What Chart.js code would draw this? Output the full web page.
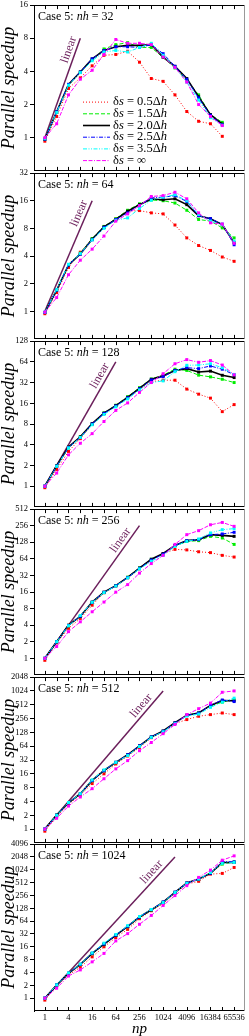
<!DOCTYPE html>
<html>
<head>
<meta charset="utf-8">
<script src="https://cdn.jsdelivr.net/npm/chart.js@4.4.1/dist/chart.umd.min.js"></script>
<style>
  html, body { margin: 0; padding: 0; background: #fff; }
  body { width: 249px; height: 1036px; position: relative; overflow: hidden; }
  canvas { position: absolute; left: 0; }
</style>
</head>
<body>
<script>
const npValues = [1, 2, 4, 8, 16, 32, 64, 128, 256, 512, 1024, 2048, 4096, 8192, 16384, 32768, 65536];
const xLabelled = [1, 4, 16, 64, 256, 1024, 4096, 16384, 65536];
const nhValues = [32, 64, 128, 256, 512, 1024];
const yTops = [16, 32, 128, 512, 2048, 4096];
const linearEnds = [8, 16, 64, 256, 1024, 2048];
const deltaLabels = ['0.5', '1.5', '2.0', '2.5', '3.5', '∞'];

// parallel speedup per np (nh = 32 stops at np = 32768)
const nh32_ds05 = [0.93, 1.56, 2.8, 3.5, 4.5, 5.6, 5.7, 6.1, 4.85, 3.45, 3.25, 2.45, 1.73, 1.41, 1.34, 1.03];
const nh32_ds15 = [0.97, 1.7, 3.0, 3.95, 5.1, 6.4, 7.0, 7.3, 6.6, 6.6, 5.35, 4.3, 3.35, 2.45, 1.62, 1.38];
const nh32_ds20 = [0.97, 1.72, 3.05, 3.95, 5.2, 6.2, 6.7, 6.9, 6.9, 7.0, 5.4, 4.45, 3.45, 2.35, 1.62, 1.33];
const nh32_ds25 = [0.97, 1.72, 3.05, 3.95, 5.2, 6.2, 6.7, 6.7, 6.6, 7.0, 5.8, 4.45, 3.4, 2.3, 1.6, 1.31];
const nh32_ds35 = [0.98, 1.7, 3.0, 3.9, 5.0, 6.0, 6.2, 6.0, 6.6, 7.2, 5.6, 4.35, 3.2, 2.2, 1.52, 1.3];
const nh32_dsInf = [1.0, 1.34, 2.45, 3.4, 4.1, 5.7, 7.8, 7.2, 7.2, 7.0, 5.4, 4.35, 3.2, 2.0, 1.56, 1.29];

const nh64_ds05 = [0.94, 1.6, 3.0, 4.4, 6.1, 8.2, 10.2, 12.3, 12.5, 11.8, 11.5, 8.7, 6.3, 5.2, 4.6, 3.9, 3.5];
const nh64_ds15 = [0.97, 1.7, 3.2, 4.3, 6.2, 8.4, 10.2, 12.6, 14.8, 16.3, 16.0, 15.1, 12.6, 10.0, 9.6, 8.1, 6.3];
const nh64_ds20 = [0.97, 1.7, 3.2, 4.2, 6.1, 8.3, 10.0, 12.3, 14.5, 16.7, 16.4, 16.8, 14.5, 11.0, 10.2, 8.8, 5.6];
const nh64_ds25 = [0.97, 1.7, 3.2, 4.2, 6.0, 8.2, 10.0, 11.8, 14.2, 17.2, 17.5, 18.2, 15.7, 11.0, 10.2, 8.9, 5.3];
const nh64_ds35 = [0.98, 1.72, 3.25, 4.25, 6.0, 8.0, 9.8, 10.4, 13.2, 16.2, 17.5, 18.6, 16.0, 11.3, 9.6, 8.8, 5.8];
const nh64_dsInf = [0.98, 1.41, 2.5, 3.6, 4.75, 6.6, 9.6, 11.5, 14.1, 17.8, 18.2, 19.8, 16.8, 11.8, 9.2, 8.9, 5.5];

const nh128_ds05 = [0.95, 1.75, 3.2, 4.9, 7.9, 11.3, 14.8, 19.2, 25.5, 33, 34.6, 34.6, 25.7, 21.7, 19, 12.1, 15.3];
const nh128_ds15 = [1.0, 1.95, 3.6, 5.2, 8.0, 11.6, 15.0, 20.0, 27, 36, 41, 50, 48, 41, 38.7, 35.7, 32];
const nh128_ds20 = [1.0, 1.98, 3.7, 5.2, 8.1, 11.5, 14.8, 19.5, 26.3, 35.7, 40, 48, 51, 45.5, 46.9, 40.8, 37.8];
const nh128_ds25 = [1.0, 1.95, 3.65, 5.1, 8.0, 11.4, 14.6, 19.2, 26, 35, 39, 48, 52.6, 51, 55.7, 50, 41.5];
const nh128_ds35 = [1.0, 1.95, 3.6, 5.1, 7.8, 11.0, 14.2, 18.5, 25, 32, 33.8, 46, 57, 57.5, 60, 52.6, 42];
const nh128_dsInf = [1.0, 1.55, 2.85, 4.2, 5.8, 8.7, 12.6, 16.2, 23, 32, 43, 60, 69, 63, 66.8, 57.5, 41.5];

const nh256_ds05 = [0.92, 1.9, 3.5, 5.3, 9.2, 15.5, 20.5, 29, 42, 60, 80, 95, 93, 86, 83, 74, 69];
const nh256_ds15 = [1.0, 2.0, 3.9, 5.7, 10.3, 15.7, 21, 29.8, 44, 63, 78, 110, 132, 137, 164, 153, 117];
const nh256_ds20 = [1.0, 2.0, 4.0, 5.8, 10.5, 15.9, 20.9, 29.4, 43.4, 62.8, 80, 112, 137, 143, 176, 171, 164];
const nh256_ds25 = [1.0, 2.0, 3.95, 5.8, 10.4, 15.8, 20.7, 29.2, 43, 61, 78, 112, 137, 143, 176, 181, 194];
const nh256_ds35 = [1.0, 2.0, 3.9, 6.0, 10.4, 15.6, 20.5, 28.8, 42, 58, 74, 108, 133, 147, 189, 217, 226];
const nh256_dsInf = [1.0, 1.64, 3.05, 4.6, 7.0, 10.5, 15.9, 21.8, 35.2, 52.5, 74, 117, 176, 208, 266, 293, 249];

const nh512_ds05 = [0.9, 1.9, 3.5, 5.5, 9.8, 16, 26.2, 39, 60, 98, 130, 200, 243, 287, 312, 338, 312];
const nh512_ds15 = [1.0, 2.0, 3.7, 5.8, 11.3, 18.5, 28, 41, 64, 100, 135, 205, 300, 340, 490, 583, 656];
const nh512_ds20 = [1.0, 2.03, 3.74, 5.9, 11.5, 18.9, 28.5, 41.6, 65, 102, 137, 207, 303, 338, 495, 634, 625];
const nh512_ds25 = [1.0, 2.0, 3.75, 5.9, 11.4, 18.7, 28.5, 41.5, 65, 102, 136, 205, 300, 335, 500, 650, 600];
const nh512_ds35 = [1.0, 2.0, 3.8, 5.9, 11.8, 19.5, 28.5, 40, 63, 100, 132, 198, 290, 320, 449, 583, 713];
const nh512_dsInf = [1.0, 1.72, 3.17, 5.0, 7.6, 12.5, 20.5, 31, 51, 77, 120, 190, 312, 420, 556, 957, 1024];

const nh1024_ds05 = [0.9, 1.95, 3.5, 5.3, 9.3, 16, 26.3, 41, 73, 112, 165, 290, 474, 549, 810, 842, 1160];
const nh1024_ds15 = [1.0, 2.0, 3.8, 6.1, 11, 18, 29.5, 47, 78, 116, 175, 300, 495, 615, 880, 1389, 1573];
const nh1024_ds20 = [1.0, 2.04, 3.82, 6.2, 11.2, 18.4, 29.8, 48, 80, 118, 178, 304, 501, 621, 843, 1519, 1519];
const nh1024_ds25 = [1.0, 2.04, 3.85, 6.2, 11.3, 18.6, 30, 48.5, 80, 119, 180, 306, 500, 620, 850, 1600, 1573];
const nh1024_ds35 = [1.0, 2.05, 3.9, 6.3, 11.5, 19.5, 31, 50, 82, 120, 175, 300, 490, 621, 880, 1450, 1519];
const nh1024_dsInf = [1.0, 1.71, 3.3, 4.6, 7.1, 11.2, 22, 32.6, 54, 87, 149, 254, 434, 679, 1005, 1720, 2170];

const panelSeries = [
  [nh32_ds05, nh32_ds15, nh32_ds20, nh32_ds25, nh32_ds35, nh32_dsInf],
  [nh64_ds05, nh64_ds15, nh64_ds20, nh64_ds25, nh64_ds35, nh64_dsInf],
  [nh128_ds05, nh128_ds15, nh128_ds20, nh128_ds25, nh128_ds35, nh128_dsInf],
  [nh256_ds05, nh256_ds15, nh256_ds20, nh256_ds25, nh256_ds35, nh256_dsInf],
  [nh512_ds05, nh512_ds15, nh512_ds20, nh512_ds25, nh512_ds35, nh512_dsInf],
  [nh1024_ds05, nh1024_ds15, nh1024_ds20, nh1024_ds25, nh1024_ds35, nh1024_dsInf],
];

// look of each delta-s curve
const seriesStyle = [
  { color: '#ff0000', dash: [1, 2], width: 1 },
  { color: '#00ee00', dash: [4, 2], width: 1 },
  { color: '#000000', dash: [], width: 1.6 },
  { color: '#0000ff', dash: [4, 1.5, 1, 1.5], width: 1 },
  { color: '#00ffff', dash: [4, 1.5, 1, 1.5, 1, 1.5], width: 1 },
  { color: '#ff00ff', dash: [4, 1.5, 4, 1.5, 1, 1.5], width: 1 },
];

const SERIF = '"Liberation Serif", "Times New Roman", serif';
const LINEAR_COLOR = '#6b1f5b';
const plotTops = [4, 172, 340, 508, 676, 843];
const PLOT_H = 168;
const X_MIN = 0.53, X_MAX = 124000;

function richText(ctx, parts, x, y, size) {
  for (const [t, italic] of parts) {
    ctx.font = (italic ? 'italic ' : '') + size + 'px ' + SERIF;
    ctx.fillText(t, x, y);
    x += ctx.measureText(t).width;
  }
}

function legendParts(v) {
  if (v === '∞') return [['δ', false], ['s', true], [' = ∞', false]];
  return [['δ', false], ['s', true], [' = ' + v, false], ['Δ', false], ['h', true]];
}

const decor = {
  id: 'decor',
  afterDraw(chart) {
    const { ctx, chartArea: a, scales: { x, y } } = chart;
    const o = chart.options.plugins.decor;
    ctx.save();

    // frame (left side is the y axis border)
    ctx.strokeStyle = '#000';
    ctx.lineWidth = 1;
    const top = Math.round(a.top) + 0.5, bot = Math.round(a.bottom) - 0.5;
    ctx.beginPath();
    ctx.moveTo(a.left, top); ctx.lineTo(a.right, top);
    ctx.moveTo(a.left, bot); ctx.lineTo(a.right, bot);
    ctx.stroke();
    ctx.strokeStyle = '#999';
    ctx.beginPath();
    ctx.moveTo(a.right - 0.5, a.top); ctx.lineTo(a.right - 0.5, a.bottom);
    ctx.stroke();

    // inward np ticks, top and bottom
    ctx.strokeStyle = '#000';
    ctx.beginPath();
    for (const v of npValues) {
      const px = Math.round(x.getPixelForValue(v)) + 0.5;
      ctx.moveTo(px, a.top); ctx.lineTo(px, a.top + 4);
      ctx.moveTo(px, a.bottom); ctx.lineTo(px, a.bottom - 4);
    }
    ctx.stroke();

    // panel title
    ctx.fillStyle = '#000';
    ctx.textBaseline = 'alphabetic';
    ctx.textAlign = 'left';
    richText(ctx, [['Case 5: ', false], ['nh', true], [' = ' + o.nh, false]], a.left + 4, a.top + 15, 12);

    // "linear" label along the y = np line
    const sx = x.getPixelForValue(1), sy = y.getPixelForValue(1);
    const ex = x.getPixelForValue(o.linearEnd), ey = y.getPixelForValue(o.linearEnd);
    const ang = Math.atan2(ey - sy, ex - sx);
    const px = sx + 0.86 * (ex - sx) + 7 * Math.sin(ang);
    const py = sy + 0.86 * (ey - sy) - 7 * Math.cos(ang);
    ctx.save();
    ctx.translate(px, py);
    ctx.rotate(ang);
    ctx.fillStyle = LINEAR_COLOR;
    ctx.textAlign = 'center';
    ctx.textBaseline = 'middle';
    ctx.font = '12px ' + SERIF;
    ctx.fillText('linear', 0, 0);
    ctx.restore();

    // legend (first panel only)
    if (o.legend) {
      ctx.textBaseline = 'middle';
      ctx.textAlign = 'left';
      seriesStyle.forEach((s, i) => {
        const ly = a.top + 97 + i * 11.7;
        ctx.strokeStyle = s.color;
        ctx.lineWidth = s.width;
        ctx.setLineDash(s.dash);
        ctx.beginPath();
        ctx.moveTo(83, ly); ctx.lineTo(110, ly);
        ctx.stroke();
        ctx.setLineDash([]);
        ctx.fillStyle = '#000';
        richText(ctx, legendParts(deltaLabels[i]), 113, ly, 12.5);
      });
    }
    ctx.restore();
  }
};

panelSeries.forEach((series, p) => {
  const last = p === panelSeries.length - 1;
  const canvas = document.createElement('canvas');
  const h = last ? 1036 - (plotTops[p] - 6) : PLOT_H + 12;
  canvas.width = 249;
  canvas.height = h;
  canvas.style.width = '249px';
  canvas.style.height = h + 'px';
  canvas.style.top = (plotTops[p] - 6) + 'px';
  document.body.appendChild(canvas);

  const yTicks = [];
  for (let v = 1; v <= yTops[p]; v *= 2) yTicks.push(v);

  const datasets = series.map((vals, i) => ({
    label: 'δs = ' + deltaLabels[i],
    data: vals.map((v, k) => ({ x: npValues[k], y: v })),
    borderColor: seriesStyle[i].color,
    backgroundColor: seriesStyle[i].color,
    borderWidth: seriesStyle[i].width,
    borderDash: seriesStyle[i].dash,
    pointStyle: 'rect',
    pointRadius: 2.1,
    pointBorderWidth: 0,
    tension: 0,
    order: 5 - i,
  }));
  datasets.push({
    label: 'linear',
    data: [{ x: 1, y: 1 }, { x: linearEnds[p], y: linearEnds[p] }],
    borderColor: LINEAR_COLOR,
    borderWidth: 1.5,
    pointRadius: 0,
    order: 10,
  });

  new Chart(canvas.getContext('2d'), {
    type: 'line',
    data: { datasets },
    options: {
      responsive: false,
      maintainAspectRatio: false,
      animation: false,
      devicePixelRatio: 1,
      events: [],
      layout: { padding: { top: 6, bottom: last ? 0 : 6, left: 0, right: 1 } },
      plugins: {
        legend: { display: false },
        tooltip: { enabled: false },
        decor: { nh: nhValues[p], linearEnd: linearEnds[p], legend: p === 0 },
      },
      scales: {
        x: {
          type: 'logarithmic',
          min: X_MIN, max: X_MAX,
          grid: { display: false, drawTicks: false },
          border: { display: false },
          afterBuildTicks: (s) => { s.ticks = npValues.map((v) => ({ value: v })); },
          afterFit: (s) => { s.height = last ? 25 : 0; s.paddingLeft = 0; s.paddingRight = 0; },
          ticks: {
            display: last,
            autoSkip: false, maxRotation: 0, padding: 2, color: '#000',
            font: { family: SERIF, size: 8.5 },
            callback: (v) => (xLabelled.includes(v) ? String(v) : ''),
          },
          title: {
            display: last, text: 'np', color: '#000', padding: 0,
            font: { family: SERIF, size: 15, style: 'italic', lineHeight: 0.95 },
          },
        },
        y: {
          type: 'logarithmic',
          min: 0.5, max: yTops[p],
          grid: { display: true, drawOnChartArea: false, drawTicks: true, tickLength: 4, color: '#000' },
          border: { display: true, color: '#000', width: 1 },
          afterBuildTicks: (s) => { s.ticks = yTicks.map((v) => ({ value: v })); },
          afterFit: (s) => { s.width = 34; },
          ticks: {
            padding: 2, color: '#000', autoSkip: false,
            font: { family: SERIF, size: 8.5 },
            callback: (v) => String(v),
          },
          title: {
            display: true, text: 'Parallel speedup', color: '#000',
            padding: { top: 0.5, bottom: 0 },
            font: { family: SERIF, size: 18, style: 'italic', lineHeight: 1 },
          },
        },
      },
    },
    plugins: [decor],
  });
});
</script>
</body>
</html>
